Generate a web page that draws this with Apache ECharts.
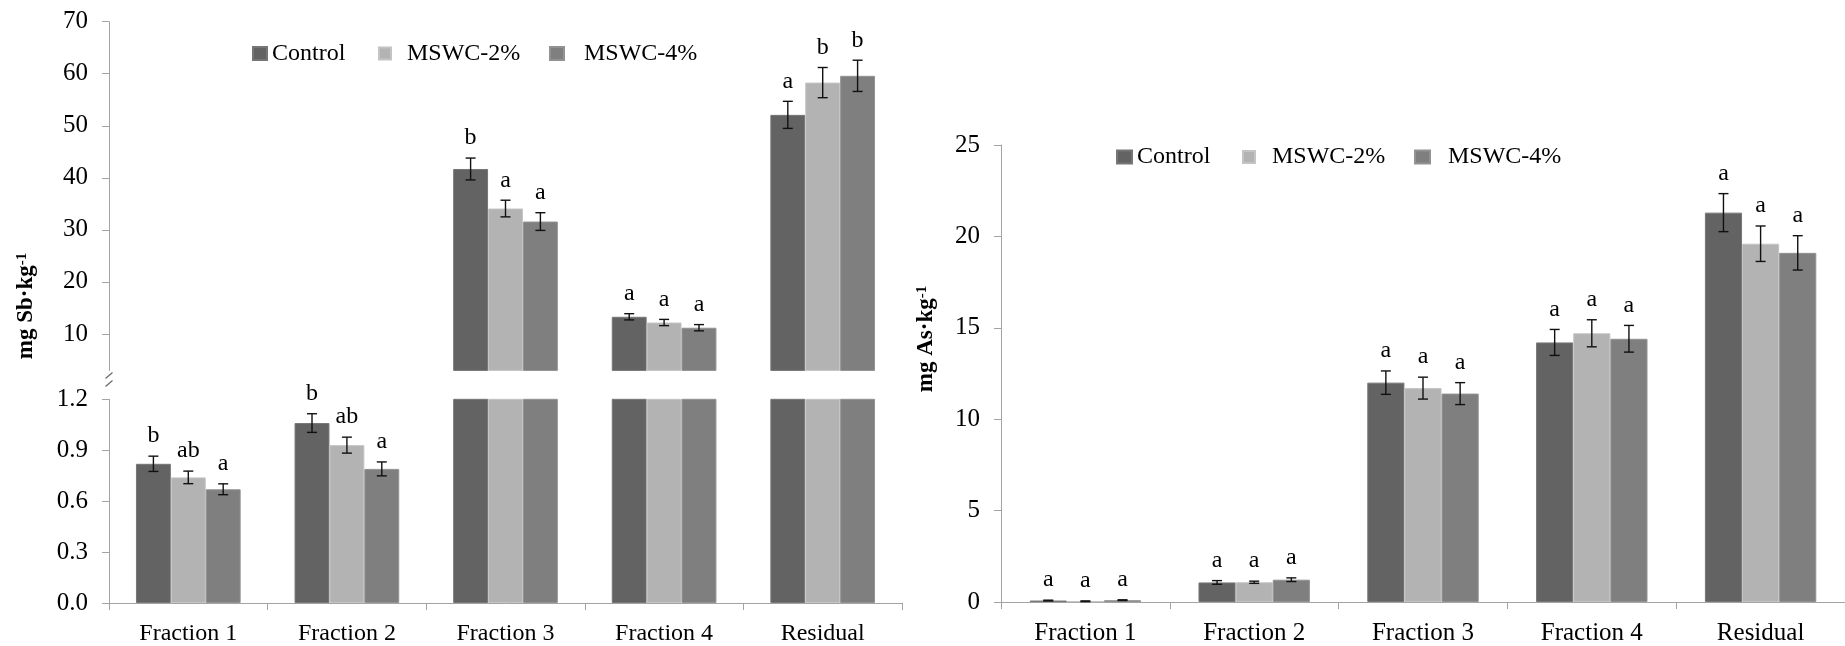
<!DOCTYPE html>
<html>
<head>
<meta charset="utf-8">
<script src="https://cdn.jsdelivr.net/npm/echarts@6/dist/echarts.min.js"></script>
<style>
  html, body { margin: 0; padding: 0; background: #ffffff; }
  #chart { width: 1845px; height: 646px; }
</style>
</head>
<body>
<div id="chart"></div>
<script>
// ---- Data -------------------------------------------------------------
const categories = ['Fraction 1', 'Fraction 2', 'Fraction 3', 'Fraction 4', 'Residual'];
const seriesNames = ['Control', 'MSWC-2%', 'MSWC-4%'];

// Sb fractions (mg Sb·kg-1), mean ± error, significance letters
const sbControl = [0.82, 1.06, 41.7, 13.3, 52.1];
const sbMswc2 = [0.74, 0.93, 34.1, 12.2, 58.3];
const sbMswc4 = [0.67, 0.79, 31.6, 11.2, 59.6];
const sbControlErr = [0.045, 0.055, 2.1, 0.6, 2.6];
const sbMswc2Err = [0.037, 0.047, 1.6, 0.6, 2.9];
const sbMswc4Err = [0.032, 0.041, 1.7, 0.6, 3.0];
const sbControlSig = ['b', 'b', 'b', 'a', 'a'];
const sbMswc2Sig = ['ab', 'ab', 'a', 'a', 'b'];
const sbMswc4Sig = ['a', 'a', 'a', 'a', 'b'];

// As fractions (mg As·kg-1)
const asControl = [0.08, 1.07, 12.0, 14.2, 21.3];
const asMswc2 = [0.04, 1.08, 11.7, 14.7, 19.6];
const asMswc4 = [0.10, 1.22, 11.4, 14.4, 19.1];
const asControlErr = [0.02, 0.1, 0.64, 0.71, 1.04];
const asMswc2Err = [0.02, 0.06, 0.6, 0.74, 0.97];
const asMswc4Err = [0.02, 0.1, 0.6, 0.73, 0.94];
const asControlSig = ['a', 'a', 'a', 'a', 'a'];
const asMswc2Sig = ['a', 'a', 'a', 'a', 'a'];
const asMswc4Sig = ['a', 'a', 'a', 'a', 'a'];

// Axis ticks
const sbUpperTicks = [10, 20, 30, 40, 50, 60, 70];
const sbLowerTicks = [0, 0.3, 0.6, 0.9, 1.2];
const asTicks = [0, 5, 10, 15, 20, 25];

// ---- Styling ----------------------------------------------------------
const FONT = '"Liberation Serif", "Times New Roman", serif';
const barColors = ['#636363', '#b3b3b3', '#7f7f7f'];
const barEdges = ['#767676', '#c4c4c4', '#929292'];
const AXIS_GRAY = '#a3a3a3';
const GAP = 0.34;

const sbMeans = [sbControl, sbMswc2, sbMswc4];
const sbErrs = [sbControlErr, sbMswc2Err, sbMswc4Err];
const sbSigs = [sbControlSig, sbMswc2Sig, sbMswc4Sig];
const asMeans = [asControl, asMswc2, asMswc4];
const asErrs = [asControlErr, asMswc2Err, asMswc4Err];
const asSigs = [asControlSig, asMswc2Sig, asMswc4Sig];

function barSeries(g, values, axisIndex) {
  return {
    type: 'bar',
    name: seriesNames[g],
    xAxisIndex: axisIndex,
    yAxisIndex: axisIndex,
    data: values,
    barGap: '0%',
    barCategoryGap: (GAP * 100) + '%',
    clip: true,
    itemStyle: { color: barColors[g], borderColor: barEdges[g], borderWidth: 1 },
    emphasis: { disabled: true },
    z: 2
  };
}

// Error bars plus significance letters, drawn only where the mean lies within [lo, hi]
function errorSeries(g, values, errs, sigs, axisIndex, lo, hi, fontSize) {
  return {
    type: 'custom',
    xAxisIndex: axisIndex,
    yAxisIndex: axisIndex,
    data: values.map((v, i) => [i, v, errs[i]]),
    z: 5,
    silent: true,
    renderItem(params, api) {
      const cat = api.value(0);
      const v = api.value(1);
      const e = api.value(2);
      if (v < lo || v > hi) return null;
      const band = api.size([1, 0])[0];
      const barW = band * (1 - GAP) / 3;
      const cx = api.coord([cat, v])[0] + (g - 1) * barW;
      const yTop = api.coord([cat, v + e])[1];
      const yBot = api.coord([cat, v - e])[1];
      const cap = 5;
      const ls = { stroke: '#111111', lineWidth: 1.4 };
      return {
        type: 'group',
        children: [
          { type: 'line', shape: { x1: cx, y1: yTop, x2: cx, y2: yBot }, style: ls },
          { type: 'line', shape: { x1: cx - cap, y1: yTop, x2: cx + cap, y2: yTop }, style: ls },
          { type: 'line', shape: { x1: cx - cap, y1: yBot, x2: cx + cap, y2: yBot }, style: ls },
          {
            type: 'text', x: cx, y: yTop - 20,
            style: {
              text: sigs[params.dataIndex], fill: '#000000',
              fontFamily: FONT, fontSize: fontSize,
              align: 'center', verticalAlign: 'middle'
            }
          }
        ]
      };
    }
  };
}

function catAxis(gridIndex, show, fontSize) {
  return {
    type: 'category', gridIndex, data: categories, show,
    axisLine: { show: true, lineStyle: { color: AXIS_GRAY, width: 1 } },
    axisTick: { show: true, length: 7, lineStyle: { color: AXIS_GRAY } },
    axisLabel: { color: '#000', fontFamily: FONT, fontSize, margin: 19 }
  };
}

function legendItem(name, left, top, w, h, pad) {
  return {
    data: [name], left, top, itemWidth: w, itemHeight: h,
    icon: 'rect', orient: 'horizontal', padding: 0, selectedMode: false,
    formatter: n => '{p| }' + n,
    textStyle: {
      fontFamily: FONT, fontSize: 24, color: '#000',
      rich: { p: { width: pad, fontSize: 24, fontFamily: FONT } }
    }
  };
}

const series = [];
for (let g = 0; g < 3; g++) {
  series.push(barSeries(g, sbMeans[g], 0));
  series.push(barSeries(g, sbMeans[g], 1));
  series.push(barSeries(g, asMeans[g], 2));
}
for (let g = 0; g < 3; g++) {
  series.push(errorSeries(g, sbMeans[g], sbErrs[g], sbSigs[g], 0, 3, Infinity, 24));
  series.push(errorSeries(g, sbMeans[g], sbErrs[g], sbSigs[g], 1, -Infinity, 1.2, 24));
  series.push(errorSeries(g, asMeans[g], asErrs[g], asSigs[g], 2, -Infinity, Infinity, 24));
}

const option = {
  animation: false,
  backgroundColor: '#ffffff',
  grid: [
    { left: 109, top: 21.7, width: 793, height: 348.7 },
    { left: 109, top: 399.3, width: 793, height: 204 },
    { left: 1001, top: 145, width: 845, height: 457.3 }
  ],
  xAxis: [
    catAxis(0, false, 24),
    catAxis(1, true, 24),
    catAxis(2, true, 25)
  ],
  yAxis: [
    {
      type: 'value', gridIndex: 0, min: 3, max: 70,
      splitLine: { show: false },
      axisLine: { show: true, lineStyle: { color: AXIS_GRAY } },
      axisTick: { show: true, length: 7, customValues: sbUpperTicks, lineStyle: { color: AXIS_GRAY } },
      axisLabel: { customValues: sbUpperTicks, color: '#000', fontFamily: FONT, fontSize: 25, margin: 21 }
    },
    {
      type: 'value', gridIndex: 1, min: 0, max: 1.2,
      splitLine: { show: false },
      axisLine: { show: true, lineStyle: { color: AXIS_GRAY } },
      axisTick: { show: true, length: 7, customValues: sbLowerTicks, lineStyle: { color: AXIS_GRAY } },
      axisLabel: {
        customValues: sbLowerTicks, color: '#000', fontFamily: FONT, fontSize: 25, margin: 21,
        formatter: v => Number(v).toFixed(1)
      }
    },
    {
      type: 'value', gridIndex: 2, min: 0, max: 25, interval: 5,
      splitLine: { show: false },
      axisLine: { show: true, lineStyle: { color: AXIS_GRAY } },
      axisTick: { show: true, length: 7, lineStyle: { color: AXIS_GRAY } },
      axisLabel: { color: '#000', fontFamily: FONT, fontSize: 25, margin: 21 }
    }
  ],
  legend: [
    legendItem('Control', 252, 41.5, 14, 13, 0),
    legendItem('MSWC-2%', 378, 41.5, 12, 12, 11),
    legendItem('MSWC-4%', 549, 41.5, 14, 13, 15),
    legendItem('Control', 1116, 145, 15, 13, 0),
    legendItem('MSWC-2%', 1242, 145, 12, 12, 12),
    legendItem('MSWC-4%', 1414, 145, 15, 13, 13)
  ],
  graphic: [
    // axis break marks on the Sb value axis
    { type: 'line', shape: { x1: 105.5, y1: 378.5, x2: 112.5, y2: 372.5 }, style: { stroke: '#6a6a6a', lineWidth: 1.2 } },
    { type: 'line', shape: { x1: 105.5, y1: 386.5, x2: 112.5, y2: 380.5 }, style: { stroke: '#6a6a6a', lineWidth: 1.2 } },
    {
      type: 'text', x: 26, y: 306, rotation: Math.PI / 2,
      style: {
        text: '{m|mg Sb·kg}{s|-1}', align: 'center', verticalAlign: 'middle',
        rich: {
          m: { fontFamily: FONT, fontSize: 23, fontWeight: 'bold', fill: '#000' },
          s: { fontFamily: FONT, fontSize: 15, fontWeight: 'bold', fill: '#000', verticalAlign: 'top' }
        }
      }
    },
    {
      type: 'text', x: 926, y: 339, rotation: Math.PI / 2,
      style: {
        text: '{m|mg As·kg}{s|-1}', align: 'center', verticalAlign: 'middle',
        rich: {
          m: { fontFamily: FONT, fontSize: 23, fontWeight: 'bold', fill: '#000' },
          s: { fontFamily: FONT, fontSize: 15, fontWeight: 'bold', fill: '#000', verticalAlign: 'top' }
        }
      }
    }
  ],
  series
};

const chart = echarts.init(document.getElementById('chart'), null, { renderer: 'canvas' });
chart.setOption(option);
</script>
</body>
</html>
